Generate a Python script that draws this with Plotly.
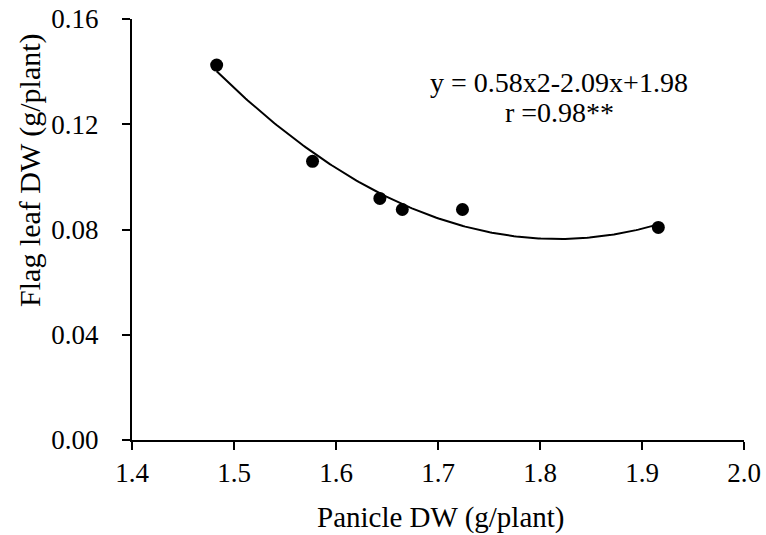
import numpy as np
import plotly.graph_objects as go

panicle_dw = [1.483, 1.577, 1.643, 1.665, 1.724, 1.916]
flag_leaf_dw = [0.1425, 0.1059, 0.0918, 0.0876, 0.0876, 0.0808]
x_ticks = [1.4, 1.5, 1.6, 1.7, 1.8, 1.9, 2.0]
y_ticks = [0.00, 0.04, 0.08, 0.12, 0.16]
equation_text = "y = 0.58x2-2.09x+1.98"
r_text = "r =0.98**"
x_title = "Panicle DW (g/plant)"
y_title = "Flag leaf DW (g/plant)"

coef = np.polyfit(panicle_dw, flag_leaf_dw, 2)
xs = np.linspace(min(panicle_dw), max(panicle_dw), 200)
ys = np.polyval(coef, xs)

FONT = "Liberation Serif, Times New Roman, serif"

fig = go.Figure()
fig.add_trace(go.Scatter(x=xs, y=ys, mode="lines",
                         line=dict(color="black", width=2), showlegend=False, hoverinfo="skip"))
fig.add_trace(go.Scatter(x=panicle_dw, y=flag_leaf_dw, mode="markers",
                         marker=dict(color="black", size=13), showlegend=False))

fig.add_annotation(x=0.698, y=0.848, xref="paper", yref="paper",
                   text=equation_text, showarrow=False,
                   font=dict(family=FONT, size=28, color="black"),
                   xanchor="center", yanchor="middle")
fig.add_annotation(x=0.698, y=0.777, xref="paper", yref="paper",
                   text=r_text, showarrow=False,
                   font=dict(family=FONT, size=28, color="black"),
                   xanchor="center", yanchor="middle")

# axis titles
fig.add_annotation(x=-0.167, y=0.641, xref="paper", yref="paper",
                   text=y_title, textangle=-90, showarrow=False,
                   font=dict(family=FONT, size=30, color="black"),
                   xanchor="center", yanchor="middle")
fig.add_annotation(x=0.505, y=-0.185, xref="paper", yref="paper",
                   text=x_title, showarrow=False,
                   font=dict(family=FONT, size=29, color="black"),
                   xanchor="center", yanchor="middle")

axis_common = dict(showline=True, linecolor="black", linewidth=2, ticks="outside",
                   ticklen=8, tickwidth=2, tickcolor="black", showgrid=False, zeroline=False,
                   tickfont=dict(family=FONT, size=27, color="black"),
                   mirror=False, automargin=False, ticklabeloverflow="allow")

fig.update_xaxes(range=[1.4, 2.0], tickvals=x_ticks, ticktext=[f"{v:.1f}" for v in x_ticks],
                 ticklabelstandoff=0, **axis_common)
fig.update_yaxes(range=[0, 0.16], tickvals=y_ticks, ticktext=[f"{v:.2f}" for v in y_ticks],
                 ticklabelstandoff=18, **axis_common)

fig.update_layout(width=766, height=535, plot_bgcolor="white", paper_bgcolor="white",
                  margin=dict(l=132, r=22, t=19, b=95), showlegend=False)

fig.write_html("out.html", config={"displayModeBar": False},
               post_script="document.body.style.margin='0';document.body.style.overflow='hidden';")
